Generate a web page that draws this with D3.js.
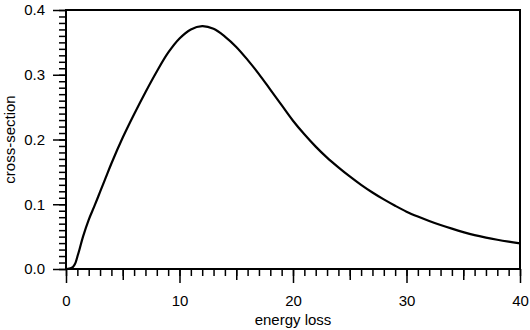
<!DOCTYPE html>
<html>
<head>
<meta charset="utf-8">
<script src="https://cdn.jsdelivr.net/npm/d3@7"></script>
<style>
  html, body { margin: 0; padding: 0; background: #fff; }
  svg { display: block; font-family: "Liberation Sans", Arial, sans-serif; }
</style>
</head>
<body>
<svg id="chart" width="530" height="330"></svg>
<script>
// ---- data ----
const energy = [0, 0.3, 0.6, 0.8, 1.0, 1.2, 1.5, 2.0, 2.5, 3.0, 3.5, 4, 5, 6, 7, 8, 9, 10, 11, 12, 13, 14, 15, 16, 17, 18, 19, 20,
  21, 22, 23, 24, 25, 26, 27, 28, 29, 30, 31, 32, 33, 34, 35, 36, 37, 38, 39, 40];
const crossSection = [0, 0.0005, 0.003, 0.008, 0.019, 0.031, 0.050, 0.076, 0.097, 0.119, 0.141, 0.163, 0.203, 0.239, 0.273, 0.305, 0.334, 0.356, 0.370, 0.375, 0.371, 0.359, 0.343, 0.323, 0.301, 0.277, 0.253, 0.229,
  0.208, 0.189, 0.172, 0.157, 0.143, 0.130, 0.1182, 0.1075, 0.0977, 0.0886, 0.0810, 0.0742, 0.0680, 0.0623, 0.0570, 0.0523, 0.0485, 0.0452, 0.0423, 0.0397];
const xTickLabels = [0, 10, 20, 30, 40];
const yTickLabels = [0.0, 0.1, 0.2, 0.3, 0.4];
const xLabel = "energy loss";
const yLabel = "cross-section";

// ---- layout ----
const svg = d3.select("#chart");
const mLeft = 66, mRight = 520, mTop = 10, mBottom = 269;
const x = d3.scaleLinear().domain([0, 40]).range([mLeft, mRight]);
const y = d3.scaleLinear().domain([0, 0.4]).range([mBottom, mTop]);

const FONT = 15;

// minor x ticks (every 1)
svg.append("g").attr("transform", `translate(0,${mBottom})`)
  .call(d3.axisBottom(x).tickValues(d3.range(0, 41, 1)).tickSize(7).tickSizeOuter(0).tickFormat(""))
  .call(g => g.select(".domain").remove());
// medium x ticks (every 5)
svg.append("g").attr("transform", `translate(0,${mBottom})`)
  .call(d3.axisBottom(x).tickValues(d3.range(5, 40, 10)).tickSize(11).tickSizeOuter(0).tickFormat(""))
  .call(g => g.select(".domain").remove());
// major x ticks with labels
svg.append("g").attr("transform", `translate(0,${mBottom})`)
  .call(d3.axisBottom(x).tickValues(xTickLabels).tickSize(14).tickSizeOuter(0).tickPadding(12).tickFormat(d3.format("d")))
  .call(g => g.select(".domain").remove());

// minor y ticks (every 0.01)
svg.append("g").attr("transform", `translate(${mLeft},0)`)
  .call(d3.axisLeft(y).tickValues(d3.range(0, 41, 1).map(d => d / 100)).tickSize(7).tickSizeOuter(0).tickFormat(""))
  .call(g => g.select(".domain").remove());
// major y ticks with labels
svg.append("g").attr("transform", `translate(${mLeft},0)`)
  .call(d3.axisLeft(y).tickValues(yTickLabels).tickSize(13).tickSizeOuter(0).tickPadding(8).tickFormat(d3.format(".1f")))
  .call(g => g.select(".domain").remove());

svg.selectAll(".tick line").attr("stroke", "#000").attr("stroke-width", 1.5);
svg.selectAll(".tick text").attr("fill", "#000").style("font-size", FONT + "px")
  .style("font-family", '"Liberation Sans", Arial, sans-serif');

// frame
svg.append("rect")
  .attr("x", mLeft).attr("y", mTop)
  .attr("width", mRight - mLeft).attr("height", mBottom - mTop)
  .attr("fill", "none").attr("stroke", "#000").attr("stroke-width", 2);

// curve
const pts = energy.map((e, i) => [e, crossSection[i]]);
svg.append("path")
  .datum(pts)
  .attr("fill", "none")
  .attr("stroke", "#000")
  .attr("stroke-width", 2.2)
  .attr("stroke-linejoin", "round")
  .attr("d", d3.line().x(d => x(d[0])).y(d => y(d[1])).curve(d3.curveCatmullRom.alpha(0.5)));

// axis titles
svg.append("text")
  .attr("x", (mLeft + mRight) / 2).attr("y", 325)
  .attr("text-anchor", "middle")
  .style("font-size", FONT + "px")
  .text(xLabel);

svg.append("text")
  .attr("transform", `translate(15,${(mTop + mBottom) / 2}) rotate(-90)`)
  .attr("text-anchor", "middle")
  .style("font-size", FONT + "px")
  .text(yLabel);
</script>
</body>
</html>
